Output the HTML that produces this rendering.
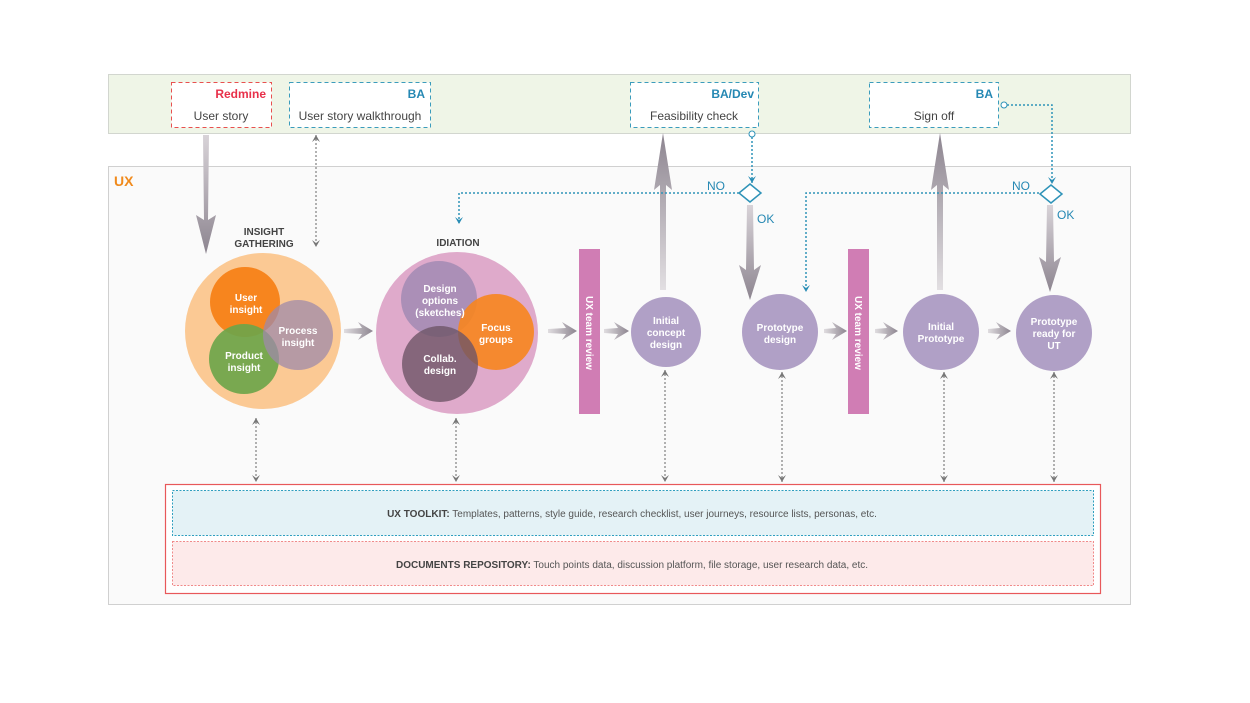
<!DOCTYPE html>
<html><head><meta charset="utf-8"><style>
html,body{margin:0;padding:0;background:#fff;}
svg{display:block;font-family:"Liberation Sans",sans-serif;}
</style></head><body>
<svg width="1250" height="703" viewBox="0 0 1250 703" xmlns="http://www.w3.org/2000/svg">
<defs>
<linearGradient id="gv" x1="0" y1="0" x2="0" y2="1"><stop offset="0" stop-color="#d8d3d8"/><stop offset="1" stop-color="#8d8590"/></linearGradient>
<linearGradient id="gu" x1="0" y1="1" x2="0" y2="0"><stop offset="0" stop-color="#e2dfe2"/><stop offset="1" stop-color="#8d8590"/></linearGradient>
<linearGradient id="gh" x1="0" y1="0" x2="1" y2="0"><stop offset="0" stop-color="#e0dde0"/><stop offset="1" stop-color="#8d8590"/></linearGradient>
<marker id="ab" markerWidth="8" markerHeight="8" refX="7" refY="4" orient="auto" markerUnits="userSpaceOnUse"><path d="M0,0 L7,4 L0,8 L3,4 Z" fill="#2a8db5"/></marker>
<marker id="ag" markerWidth="8" markerHeight="8" refX="7" refY="4" orient="auto-start-reverse" markerUnits="userSpaceOnUse"><path d="M0,0 L7,4 L0,8 L3,4 Z" fill="#777"/></marker>
</defs>
<rect x="108.5" y="74.5" width="1022" height="59" fill="#eff5e7" stroke="#d2d6cf"/>
<rect x="108.5" y="166.5" width="1022" height="438" fill="#fafafa" stroke="#d0d0d0"/>
<text x="114" y="186" font-size="14" font-weight="bold" fill="#f08a1c">UX</text>

<rect x="171.5" y="82.5" width="100" height="45" fill="#fff" stroke="#e8504f" stroke-dasharray="4,3"/>
<text x="266" y="98" font-size="12" font-weight="bold" fill="#e8304a" text-anchor="end">Redmine</text>
<text x="221" y="120" font-size="12" fill="#444" text-anchor="middle">User story</text>
<rect x="289.5" y="82.5" width="141" height="45" fill="#fff" stroke="#3b9cbc" stroke-dasharray="4,3"/>
<text x="425" y="98" font-size="12" font-weight="bold" fill="#2588b3" text-anchor="end">BA</text>
<text x="360" y="120" font-size="12" fill="#444" text-anchor="middle">User story walkthrough</text>
<rect x="630.5" y="82.5" width="128" height="45" fill="#fff" stroke="#3b9cbc" stroke-dasharray="4,3"/>
<text x="754" y="98" font-size="12" font-weight="bold" fill="#2588b3" text-anchor="end">BA/Dev</text>
<text x="694" y="120" font-size="12" fill="#444" text-anchor="middle">Feasibility check</text>
<rect x="869.5" y="82.5" width="129" height="45" fill="#fff" stroke="#3b9cbc" stroke-dasharray="4,3"/>
<text x="993" y="98" font-size="12" font-weight="bold" fill="#2588b3" text-anchor="end">BA</text>
<text x="934" y="120" font-size="12" fill="#444" text-anchor="middle">Sign off</text>

<polygon points="203,135 209,135 208,220 216,215 206,254 196,215 204,220" fill="url(#gv)"/>
<polygon points="660,290 666,290 666,185 672,190 663,133 654,190 660,185" fill="url(#gu)"/>
<polygon points="937,290 943,290 943,185 949,190 940,133 931,190 937,185" fill="url(#gu)"/>
<polygon points="747,205 753,205 754,270 761,265 750,300 739,265 746,270" fill="url(#gv)"/>
<polygon points="1047,205 1053,205 1054,262 1061,257 1050,292 1039,257 1046,262" fill="url(#gv)"/>
<g fill="url(#gh)">
<polygon points="344,329 362,328 358,322 373,331 358,340 362,334 344,333"/>
<polygon points="548,329 566,328 562,322 577,331 562,340 566,334 548,333"/>
<polygon points="604,329 618,328 614,322 629,331 614,340 618,334 604,333"/>
<polygon points="824,329 836,328 832,322 847,331 832,340 836,334 824,333"/>
<polygon points="875,329 887,328 883,322 898,331 883,340 887,334 875,333"/>
<polygon points="988,329 1000,328 996,322 1011,331 996,340 1000,334 988,333"/>
</g>

<g fill="none" stroke="#2f93b8" stroke-width="1.5" stroke-dasharray="2,2">
<line x1="752" y1="137" x2="752" y2="183" marker-end="url(#ab)"/>
<polyline points="739,193 459,193 459,224" marker-end="url(#ab)"/>
<polyline points="1007,105 1052,105 1052,184" marker-end="url(#ab)"/>
<polyline points="1039,193 806,193 806,292" marker-end="url(#ab)"/>
</g>
<circle cx="752" cy="134" r="3" fill="#fff" stroke="#2f93b8"/>
<circle cx="1004" cy="105" r="3" fill="#fff" stroke="#2f93b8"/>
<polygon points="750,184 761,193 750,202 739,193" fill="#fff" stroke="#2f93b8" stroke-width="1.5"/>
<polygon points="1051,185 1062,194 1051,203 1040,194" fill="#fff" stroke="#2f93b8" stroke-width="1.5"/>
<g font-size="12" fill="#2588b3">
<text x="707" y="190">NO</text><text x="757" y="223">OK</text>
<text x="1012" y="190">NO</text><text x="1057" y="219">OK</text>
</g>

<g stroke="#888" stroke-width="1.3" stroke-dasharray="2,2" fill="none">
<line x1="316" y1="135" x2="316" y2="247" marker-start="url(#ag)" marker-end="url(#ag)"/>
<line x1="256" y1="418" x2="256" y2="482" marker-start="url(#ag)" marker-end="url(#ag)"/>
<line x1="456" y1="418" x2="456" y2="482" marker-start="url(#ag)" marker-end="url(#ag)"/>
<line x1="665" y1="370" x2="665" y2="482" marker-start="url(#ag)" marker-end="url(#ag)"/>
<line x1="782" y1="372" x2="782" y2="482" marker-start="url(#ag)" marker-end="url(#ag)"/>
<line x1="944" y1="372" x2="944" y2="482" marker-start="url(#ag)" marker-end="url(#ag)"/>
<line x1="1054" y1="372" x2="1054" y2="482" marker-start="url(#ag)" marker-end="url(#ag)"/>
</g>

<text x="264" y="235" font-size="10" font-weight="bold" fill="#444" text-anchor="middle">INSIGHT</text>
<text x="264" y="247" font-size="10" font-weight="bold" fill="#444" text-anchor="middle">GATHERING</text>
<circle cx="263" cy="331" r="78" fill="#fbc994"/>
<circle cx="245" cy="302" r="35" fill="#f7851e"/>
<circle cx="244" cy="359" r="35" fill="#6ea54a" fill-opacity="0.92"/>
<circle cx="298" cy="335" r="35" fill="#9f8aaa" fill-opacity="0.75"/>
<g font-size="10" font-weight="bold" fill="#fff" text-anchor="middle">
<text x="246" y="301">User</text><text x="246" y="313">insight</text>
<text x="244" y="359">Product</text><text x="244" y="371">insight</text>
<text x="298" y="334">Process</text><text x="298" y="346">insight</text>
</g>

<text x="458" y="246" font-size="10" font-weight="bold" fill="#444" text-anchor="middle">IDIATION</text>
<circle cx="457" cy="333" r="81" fill="#dfaacb"/>
<circle cx="439" cy="299" r="38" fill="#a88db5" fill-opacity="0.95"/>
<circle cx="496" cy="332" r="38" fill="#f7851e" fill-opacity="0.9"/>
<circle cx="440" cy="364" r="38" fill="#6e5566" fill-opacity="0.8"/>
<g font-size="10" font-weight="bold" fill="#fff" text-anchor="middle">
<text x="440" y="292">Design</text><text x="440" y="304">options</text><text x="440" y="316">(sketches)</text>
<text x="496" y="331">Focus</text><text x="496" y="343">groups</text>
<text x="440" y="362">Collab.</text><text x="440" y="374">design</text>
</g>

<rect x="579" y="249" width="21" height="165" fill="#d07db4"/>
<rect x="848" y="249" width="21" height="165" fill="#d07db4"/>
<text transform="translate(586,296) rotate(90)" font-size="10" font-weight="bold" fill="#fff">UX team review</text>
<text transform="translate(855,296) rotate(90)" font-size="10" font-weight="bold" fill="#fff">UX team review</text>

<g fill="#b0a0c6">
<circle cx="666" cy="332" r="35"/>
<circle cx="780" cy="332" r="38"/>
<circle cx="941" cy="332" r="38"/>
<circle cx="1054" cy="333" r="38"/>
</g>
<g font-size="10" font-weight="bold" fill="#fff" text-anchor="middle">
<text x="666" y="324">Initial</text><text x="666" y="336">concept</text><text x="666" y="348">design</text>
<text x="780" y="331">Prototype</text><text x="780" y="343">design</text>
<text x="941" y="330">Initial</text><text x="941" y="342">Prototype</text>
<text x="1054" y="325">Prototype</text><text x="1054" y="337">ready for</text><text x="1054" y="349">UT</text>
</g>

<rect x="165.5" y="484.5" width="935" height="109" fill="#fff" stroke="#e8585a" stroke-width="1.2"/>
<rect x="172.5" y="490.5" width="921" height="45" fill="#e4f2f6" stroke="#2f9fbf" stroke-dasharray="2,1.5"/>
<rect x="172.5" y="541.5" width="921" height="44" fill="#fdeaea" stroke="#f08a8a" stroke-dasharray="2,1.5"/>
<text x="632" y="517" font-size="10" fill="#555" text-anchor="middle"><tspan font-weight="bold" fill="#444">UX TOOLKIT:</tspan> Templates, patterns, style guide, research checklist, user journeys, resource lists, personas, etc.</text>
<text x="632" y="568" font-size="10" fill="#555" text-anchor="middle"><tspan font-weight="bold" fill="#444">DOCUMENTS REPOSITORY:</tspan> Touch points data, discussion platform, file storage, user research data,  etc.</text>
</svg>
</body></html>
